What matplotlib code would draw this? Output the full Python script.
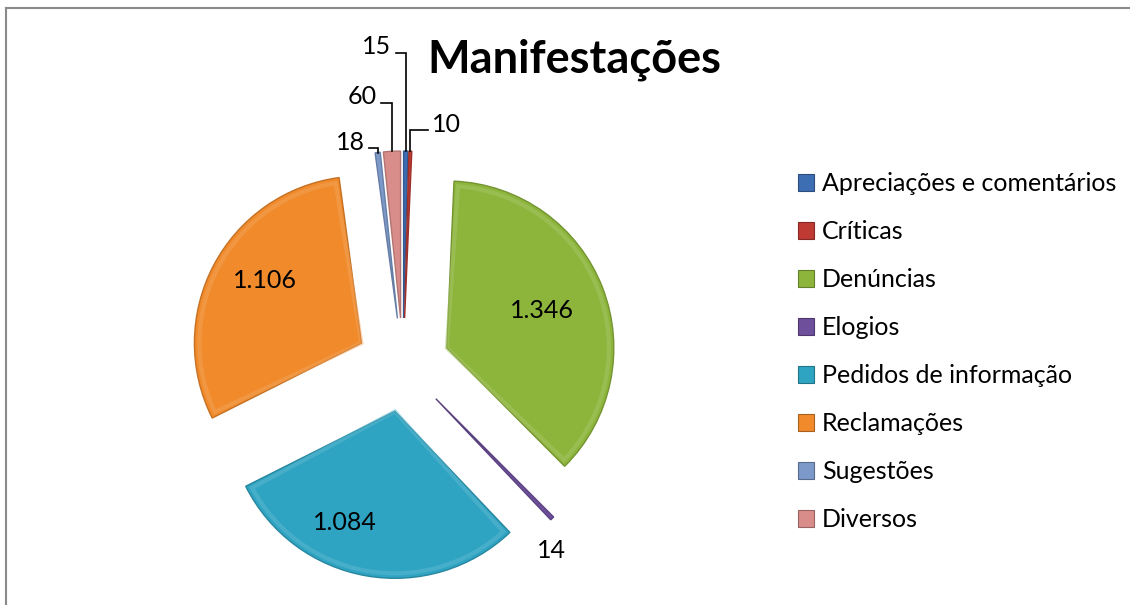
import matplotlib
matplotlib.use('Agg')
import matplotlib.pyplot as plt
import numpy as np
import matplotlib.colors as mcolors
from matplotlib.patches import Patch, Wedge
from matplotlib.lines import Line2D

# ---------------- data ----------------
title = 'Manifestações'
categories = ['Apreciações e comentários', 'Críticas', 'Denúncias', 'Elogios',
              'Pedidos de informação', 'Reclamações', 'Sugestões', 'Diversos']
values = [15, 10, 1346, 14, 1084, 1106, 18, 60]
colors = ['#3D6DB2', '#BF3A33', '#8DB53C', '#6E4F9C',
          '#2FA4C2', '#F08A2B', '#7D99C9', '#D98D8B']


def fmt(v):
    return f'{v:,}'.replace(',', '.')


W, H = 1130, 605
fig = plt.figure(figsize=(W / 100, H / 100), dpi=100)
ax = fig.add_axes([0, 0, 1, 1])

FONT = 'Lato'
cx, cy = 403, H - 365
radius = 167
expl = 47


def darker(c, f=0.75):
    r, g, b = mcolors.to_rgb(c)
    return (r * f, g * f, b * f)


def lighter(c, f=0.45):
    r, g, b = mcolors.to_rgb(c)
    return (r + (1 - r) * f, g + (1 - g) * f, b + (1 - b) * f)


wedges, _ = ax.pie(values, colors=colors, startangle=90, counterclock=False,
                   radius=radius, center=(cx, cy), explode=[expl] * len(values),
                   wedgeprops=dict(linewidth=1.0), frame=True)
for w, c in zip(wedges, colors):
    w.set_edgecolor(darker(c, 0.82))
# soft bevel highlight
for w, c in zip(wedges, colors):
    if w.theta2 - w.theta1 > 20:
        hi = Wedge(w.center, w.r - 5, w.theta1 + 1.5, w.theta2 - 1.5,
                   facecolor='none', edgecolor=lighter(c, 0.25), linewidth=3,
                   alpha=0.45)
        ax.add_patch(hi)

ax.set_xlim(0, W)
ax.set_ylim(0, H)
ax.set_aspect('equal')
ax.axis('off')

# ---------------- data labels ----------------
lab_fs = 18
inside_pos = {2: (542, 311), 4: (345, 522), 5: (265, 280)}
for i, (px, py) in inside_pos.items():
    ax.text(px, H - py, fmt(values[i]), ha='center', va='center',
            fontsize=lab_fs, family=FONT, color='black')


def tip(i):
    w = wedges[i]
    th = np.deg2rad((w.theta1 + w.theta2) / 2)
    x0, y0 = w.center
    return x0 + w.r * np.cos(th), y0 + w.r * np.sin(th)


outside = {0: ((377, 47), 'right'), 1: ((446, 124), 'left'),
           6: ((350, 142), 'right'), 7: ((362, 97), 'right')}
for i, ((px, py), side) in outside.items():
    ty = H - py
    ax.text(px, ty, fmt(values[i]), ha='center', va='center',
            fontsize=lab_fs, family=FONT, color='black')
    tx, tyy = tip(i)
    ly = ty - 6
    sx = px + 19 if side == 'right' else px - 18
    ax.plot([sx, tx, tx], [ly, ly, tyy], color='black', lw=1.2,
            solid_joinstyle='miter')

ax.text(551, H - 550, fmt(values[3]), ha='center', va='center',
        fontsize=lab_fs, family=FONT, color='black')

# ---------------- title ----------------
ax.text(574, H - 60, title, ha='center', va='center', fontsize=32.5,
        fontweight='bold', family=FONT, color='black')

# ---------------- legend ----------------
handles = [Patch(facecolor=c, edgecolor=darker(c, 0.7), linewidth=0.8) for c in colors]
leg = ax.legend(handles, categories, loc='upper left',
                bbox_to_anchor=(798 / W, 1 - 172 / H), frameon=False,
                prop=dict(family=FONT, size=18), handlelength=0.65,
                handleheight=0.65, handletextpad=0.3, labelspacing=1.0,
                borderpad=0, borderaxespad=0)

# ---------------- border ----------------
fig.add_artist(Line2D([6 / W, 6 / W], [0, 1 - 8 / H], color='#8a8a8a', lw=1.5,
                      transform=fig.transFigure))
fig.add_artist(Line2D([6 / W, 1], [1 - 8 / H, 1 - 8 / H], color='#8a8a8a', lw=1.5,
                      transform=fig.transFigure))

fig.savefig('out.png', dpi=100)
